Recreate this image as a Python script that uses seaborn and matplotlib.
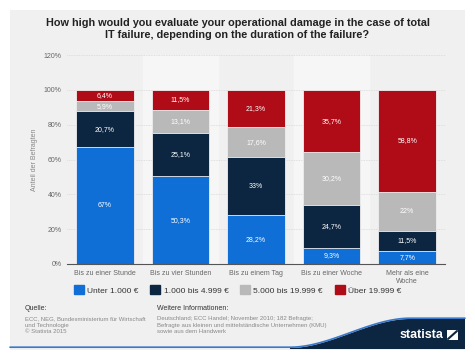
import numpy as np
import pandas as pd
import matplotlib
matplotlib.use("Agg")
import matplotlib.pyplot as plt
import matplotlib.patches as mpatches
import seaborn as sns

categories = ["Bis zu einer Stunde", "Bis zu vier Stunden", "Bis zu einem Tag",
              "Bis zu einer Woche", "Mehr als eine\nWoche"]
series_names = ["Unter 1.000 €", "1.000 bis 4.999 €", "5.000 bis 19.999 €", "Über 19.999 €"]
unter_1000 = [67, 50.3, 28.2, 9.3, 7.7]
bis_4999 = [20.7, 25.1, 33, 24.7, 11.5]
bis_19999 = [5.9, 13.1, 17.6, 30.2, 22]
ueber_19999 = [6.4, 11.5, 21.3, 35.7, 58.8]
colors = ["#0f6fd6", "#0c2540", "#b9b9b9", "#b00c17"]

title = ("How high would you evaluate your operational damage in the case of total\n"
         "IT failure, depending on the duration of the failure?")

sns.set_style("white")
plt.rcParams["font.family"] = ["Liberation Sans", "DejaVu Sans"]

series = [unter_1000, bis_4999, bis_19999, ueber_19999]
df = pd.DataFrame({"cat": categories})
cum = np.zeros(len(categories))
for name, vals in zip(series_names, series):
    cum = cum + np.array(vals)
    df[name] = cum.copy()
    df[name + "_val"] = vals

fig = plt.figure(figsize=(4.75, 3.59), dpi=100)
fig.patch.set_facecolor("white")
fig.patches.append(mpatches.Rectangle((10 / 475, 9 / 359), 455 / 475, 340 / 359,
                                      transform=fig.transFigure, facecolor="#f0f0f0",
                                      edgecolor="none", zorder=-10))

ax = fig.add_axes([67 / 475, 1 - 264 / 359, 378 / 475, 209 / 359])
ax.patch.set_alpha(0)

for i in (1, 3):
    ax.axvspan(i - 0.5, i + 0.5, color="#f6f6f6", zorder=0)

# stacked bars: draw cumulative totals from top layer down
for name, col in reversed(list(zip(series_names, colors))):
    sns.barplot(data=df, x="cat", y=name, color=col, width=0.76, ax=ax,
                edgecolor="#f0f0f0", linewidth=0.6, zorder=2, saturation=1)

# value labels
for i in range(len(categories)):
    bottom = 0
    for name in series_names:
        v = df.loc[i, name + "_val"]
        lbl = f"{v:g}".replace(".", ",") + "%"
        ax.text(i, bottom + v / 2, lbl, ha="center", va="center", color="white",
                fontsize=5, zorder=5)
        bottom += v

ax.set_ylim(0, 120)
ax.set_xlim(-0.5, 4.5)
ax.set_yticks(np.arange(0, 121, 20))
ax.set_yticklabels([f"{t}%" for t in range(0, 121, 20)])
ax.grid(axis="y", color="#d8d8d8", linestyle=(0, (1, 1)), linewidth=0.6, zorder=1)
ax.set_axisbelow(True)
for s in ["top", "right", "left"]:
    ax.spines[s].set_visible(False)
ax.spines["bottom"].set_color("#555555")
ax.spines["bottom"].set_linewidth(0.8)
ax.tick_params(axis="both", length=0, labelsize=5, colors="#666666", pad=4)
ax.set_xlabel("")
ax.set_ylabel("Anteil der Befragten", fontsize=5, color="#888888", labelpad=4)

fig.text(0.5, 1 - 29 / 359, title, ha="center", va="center", fontsize=7.8,
         fontweight="bold", color="#222222", linespacing=1.3)

handles = [mpatches.Patch(color=c, label=n) for c, n in zip(colors, series_names)]
fig.legend(handles=handles, loc="center", bbox_to_anchor=(0.5, 1 - 290 / 359),
           ncol=4, frameon=False, fontsize=6, handlelength=1.2, handleheight=1.2,
           handletextpad=0.4, columnspacing=1.4, labelcolor="#333333")

# footer
fig.text(25 / 475, 1 - 309 / 359, "Quelle:", fontsize=5, color="#333333", va="center")
fig.text(25 / 475, 1 - 325 / 359,
         "ECC, NEG, Bundesministerium für Wirtschaft\nund Technologie\n© Statista 2015",
         fontsize=4.3, color="#888888", va="center", linespacing=1.3)
fig.text(157 / 475, 1 - 309 / 359, "Weitere Informationen:", fontsize=5, color="#333333",
         va="center")
fig.text(157 / 475, 1 - 325 / 359,
         "Deutschland; ECC Handel; November 2010; 182 Befragte;\n"
         "Befragte aus kleinen und mittelständische Unternehmen (KMU)\n"
         "sowie aus dem Handwerk",
         fontsize=4.3, color="#888888", va="center", linespacing=1.3)

# logo swoosh
xs = np.linspace(290, 465, 100)
t = np.clip((xs - 290) / 120, 0, 1)
ytop = 348 - 29 * (3 * t ** 2 - 2 * t ** 3)
poly_x = np.concatenate([xs, [465, 290]])
poly_y = np.concatenate([ytop, [349, 349]])
fig.patches.append(mpatches.Polygon(np.column_stack([poly_x / 475, 1 - poly_y / 359]),
                                    closed=True, transform=fig.transFigure,
                                    facecolor="#0c2540", edgecolor="none", zorder=-5))
fig.lines.append(plt.Line2D(np.concatenate([[10], xs]) / 475,
                            1 - (np.concatenate([[348], ytop]) - 0.8) / 359,
                            transform=fig.transFigure, color="#3a78c9", linewidth=1.2,
                            zorder=-4))
fig.text(443 / 475, 1 - 335 / 359, "statista", fontsize=9, fontweight="bold",
         color="white", ha="right", va="center")
fig.patches.append(mpatches.Rectangle((447 / 475, 1 - 340 / 359), 11 / 475, 10 / 359,
                                      transform=fig.transFigure, facecolor="white",
                                      edgecolor="none", zorder=5))
fig.lines.append(plt.Line2D([448 / 475, 457 / 475], [1 - 339 / 359, 1 - 331 / 359],
                            transform=fig.transFigure, color="#0c2540", linewidth=1.5,
                            zorder=6))

fig.savefig("out.png", dpi=100, facecolor=fig.get_facecolor())
